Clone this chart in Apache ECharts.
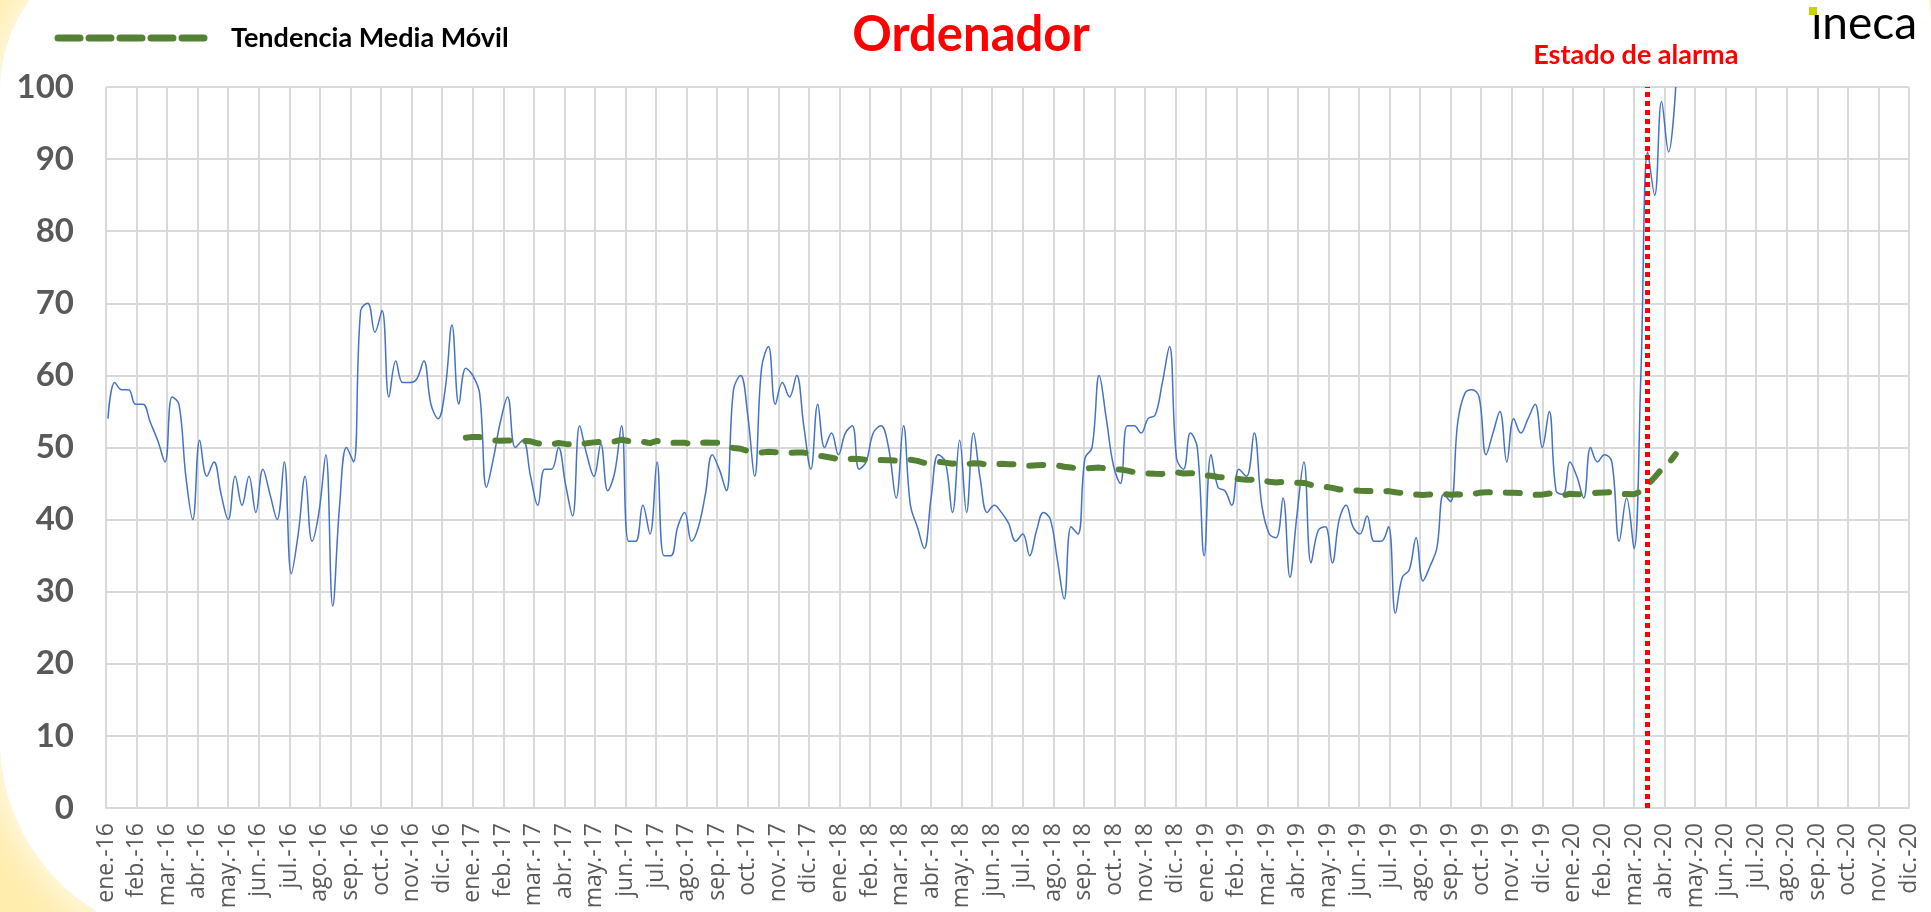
<!DOCTYPE html>
<html>
<head>
<meta charset="utf-8">
<script src="https://cdn.jsdelivr.net/npm/echarts@6/dist/echarts.min.js"></script>
<style>
    html, body { margin: 0; padding: 0; background: #fff; }
    #chart { width: 1931px; height: 912px; }
</style>
</head>
<body>
<div id="chart"></div>
<script>
    // eje x: un rotulo por mes, ene.-16 .. dic.-20
    const monthNames = ['ene.', 'feb.', 'mar.', 'abr.', 'may.', 'jun.', 'jul.', 'ago.', 'sep.', 'oct.', 'nov.', 'dic.']
    const years = ['16', '17', '18', '19', '20']
    const monthLabels = []
    years.forEach(y => monthNames.forEach(m => monthLabels.push(m + '-' + y)))

    // serie semanal (domingos) desde el 3 de enero de 2016
    const firstWeek = [2016, 0, 3]
    const alarmDate = [2020, 2, 14]
    const maPeriod = 52

    const weekly = [
        54, 59, 58, 58, 56, 56, 53.5, 51, 48, 57,
        56, 46, 40, 51, 46, 48, 43.5, 40, 46, 42,
        46, 41, 47, 43.5, 40, 48, 32.5, 38, 46, 37,
        41, 49, 28, 42, 50, 48, 69, 70, 66, 69,
        57, 62, 59, 59, 59.5, 62, 56, 54, 58, 67,
        56, 61, 60, 57.5, 44.5, 48.5, 53.5, 57, 50, 51,
        46, 42, 47, 47, 50, 45, 40.5, 53, 49, 46,
        50.5, 44, 46.5, 53, 37, 37, 42, 38, 48, 35,
        35, 39, 41, 37, 39, 43.5, 49, 47, 44, 58,
        60, 54.5, 46, 61, 64, 56, 59, 57, 60, 53,
        47, 56, 50, 52, 49, 52, 53, 47, 48, 52,
        53, 50, 43, 53, 42, 39, 36, 43, 49, 48,
        41, 51, 41, 52, 45.5, 41, 42, 41, 39.5, 37,
        38, 35, 38.5, 41, 40, 34.5, 29, 39, 38, 48.5,
        50, 60, 54, 47.5, 45, 53, 53, 52, 54, 54.5,
        59, 64, 48.5, 47, 52, 50, 35, 49, 44.5, 44,
        42, 47, 46, 52, 42, 38, 37.5, 43, 32, 40.5,
        48, 34, 38.5, 39, 34, 40, 42, 39, 38, 40.5,
        37, 37, 39, 27, 32, 33, 37.5, 31.5, 33.5, 36,
        43.5, 42.5, 53.5, 57.5, 58, 57, 49, 52, 55, 48,
        54, 52, 54, 56, 50, 55, 44, 43.5, 48, 46,
        43, 50, 48, 49, 48, 37, 43, 36, 60, 91,
        85, 98, 91, 100
    ]

    // posicion en meses (0 = 1 ene 2016)
    function monthPos(d) {
        const days = new Date(d.getFullYear(), d.getMonth() + 1, 0).getDate()
        return (d.getFullYear() - 2016) * 12 + d.getMonth() + (d.getDate() - 1) / days
    }

    const lineData = []
    const maData = []
    for (let i = 0; i < weekly.length; i++) {
        const d = new Date(firstWeek[0], firstWeek[1], firstWeek[2] + 7 * i)
        const x = monthPos(d)
        lineData.push([x, weekly[i]])
        if (i >= maPeriod - 1) {
            let s = 0
            for (let k = i - maPeriod + 1; k <= i; k++) s += weekly[k]
            maData.push([x, s / maPeriod])
        }
    }
    const alarmX = monthPos(new Date(alarmDate[0], alarmDate[1], alarmDate[2]))

    const green = '#548235'

    const options = {
        backgroundColor: '#ffedae',
        animation: false,
        grid: {
            left: 106,
            right: 22,
            top: 87,
            bottom: 104
        },
        xAxis: {
            type: 'value',
            min: 0,
            max: 59,
            interval: 1,
            axisLine: {lineStyle: {color: '#d9d9d9', width: 2}},
            axisTick: {show: false},
            splitLine: {lineStyle: {color: '#d9d9d9', width: 2}},
            axisLabel: {
                rotate: 90,
                margin: 15,
                color: '#595959',
                fontSize: 23,
                fontFamily: 'Open Sans',
                formatter: v => monthLabels[Math.round(v)] || ''
            }
        },
        yAxis: {
            type: 'value',
            min: 0,
            max: 100,
            interval: 10,
            axisLine: {show: false},
            axisTick: {show: false},
            splitLine: {lineStyle: {color: '#d9d9d9', width: 2}},
            axisLabel: {
                margin: 32,
                color: '#595959',
                fontSize: 33,
                fontWeight: 'bold',
                fontFamily: 'Lato'
            }
        },
        series: [
            {
                name: 'Ordenador',
                type: 'line',
                data: lineData,
                smooth: 0.4,
                symbol: 'none',
                lineStyle: {color: '#4472c4', width: 1.5},
                z: 3,
                markLine: {
                    silent: true,
                    symbol: 'none',
                    data: [{xAxis: alarmX}],
                    lineStyle: {color: '#ff0000', width: 5, type: [5, 4]},
                    label: {
                        show: true,
                        position: 'end',
                        distance: 18,
                        formatter: 'Estado de alarma',
                        color: '#ff0000',
                        fontSize: 27,
                        fontWeight: 'bold',
                        fontFamily: 'Lato',
                        padding: [0, 22, 0, 0]
                    }
                }
            },
            {
                name: 'Tendencia Media Móvil',
                type: 'line',
                data: maData,
                symbol: 'none',
                lineStyle: {color: green, width: 6, type: [14, 16], cap: 'round'},
                z: 4
            }
        ],
        graphic: [
            {
                // marco blanco con esquinas redondeadas sobre fondo amarillo
                type: 'rect',
                z: -10,
                silent: true,
                shape: {x: 0, y: -60, width: 1931, height: 1000, r: [150, 80, 0, 200]},
                style: {fill: '#fff', shadowBlur: 40, shadowColor: '#fff'}
            },
            {
                // leyenda
                type: 'line',
                shape: {x1: 58, y1: 38, x2: 208, y2: 38},
                style: {stroke: green, lineWidth: 7, lineDash: [22, 9], lineCap: 'round'}
            },
            {
                type: 'text',
                x: 231,
                y: 38,
                style: {
                    text: 'Tendencia Media Móvil',
                    fill: '#000',
                    font: 'bold 27px Lato',
                    textVerticalAlign: 'middle'
                }
            },
            {
                type: 'text',
                x: 971,
                y: 35,
                style: {
                    text: 'Ordenador',
                    fill: '#ff0000',
                    font: 'bold 49px Lato',
                    textAlign: 'center',
                    textVerticalAlign: 'middle'
                }
            },
            {
                type: 'text',
                x: 1917,
                y: 24,
                style: {
                    text: 'ıneca',
                    fill: '#000',
                    font: '46px Lato',
                    textAlign: 'right',
                    textVerticalAlign: 'middle'
                }
            },
            {
                type: 'rect',
                shape: {x: 1809, y: 7, width: 8, height: 8},
                style: {fill: '#c8d400'}
            }
        ]
    }

    const myChart = echarts.init(document.getElementById('chart'))
    myChart.setOption(options)
</script>
</body>
</html>
